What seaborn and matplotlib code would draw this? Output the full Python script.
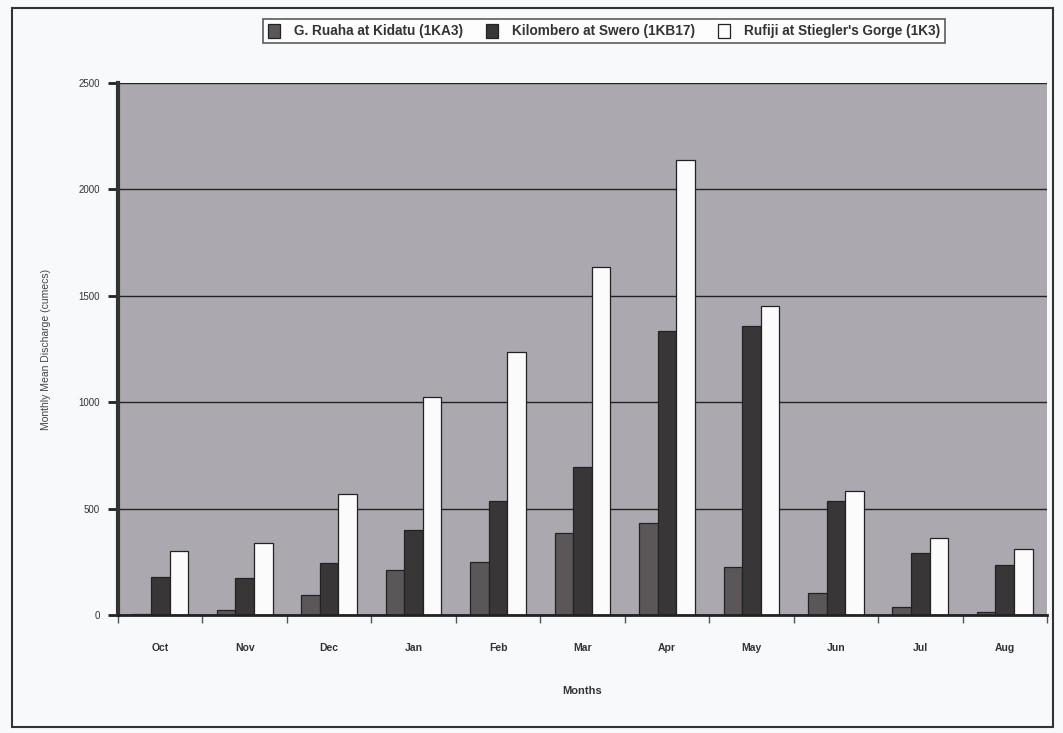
import numpy as np
import pandas as pd
import matplotlib
matplotlib.use("Agg")
import matplotlib.pyplot as plt
from matplotlib.patches import Rectangle
import seaborn as sns

months = ["Oct", "Nov", "Dec", "Jan", "Feb", "Mar", "Apr", "May", "Jun", "Jul", "Aug"]
series_names = [
    "G. Ruaha at Kidatu (1KA3)",
    "Kilombero at Swero (1KB17)",
    "Rufiji at Stiegler's Gorge (1K3)",
]
ruaha = [6, 23, 95, 211, 250, 385, 432, 226, 105, 38, 14]
kilombero = [179, 174, 245, 400, 536, 696, 1335, 1358, 536, 291, 235]
rufiji = [301, 338, 570, 1025, 1235, 1635, 2138, 1452, 583, 361, 310]

yticks = [0, 500, 1000, 1500, 2000, 2500]

df = pd.DataFrame({
    "Month": months * 3,
    "Station": np.repeat(series_names, len(months)),
    "Discharge": ruaha + kilombero + rufiji,
})

sns.set_theme(style="white")
plt.rcParams["font.family"] = ["Liberation Sans", "DejaVu Sans"]

fig = plt.figure(figsize=(10.63, 7.33), dpi=100)
fig.patch.set_facecolor("#f7f9fb")
ax = fig.add_axes([118 / 1063, 1 - 615 / 733, (1047 - 118) / 1063, (615 - 83) / 733])
ax.set_facecolor("#aba8af")

palette = {series_names[0]: "#5b5758", series_names[1]: "#393637", series_names[2]: "#fbfbfb"}
sns.barplot(data=df, x="Month", y="Discharge", hue="Station", order=months,
            hue_order=series_names, palette=palette, width=0.66, saturation=1,
            edgecolor="#222222", linewidth=0.9, ax=ax, legend=True)

ax.set_ylim(0, 2500)
ax.set_yticks(yticks)
ax.set_yticklabels([str(v) for v in yticks], fontsize=7, color="#333333")
ax.yaxis.grid(True, color="#222222", linewidth=1.0)
ax.set_axisbelow(True)
ax.tick_params(axis="y", which="major", left=True, length=7, width=2, color="#222222", pad=6)

ax.set_xlim(-0.5, len(months) - 0.5)
ax.set_xticks(range(len(months)))
ax.set_xticklabels(months, fontsize=7.5, fontweight="bold", color="#333333")
ax.set_xticks(np.arange(-0.5, len(months), 1.0), minor=True)
ax.tick_params(axis="x", which="major", bottom=False, length=0, pad=20)
ax.tick_params(axis="x", which="minor", bottom=True, length=6, width=1, color="#555555")

for side in ["top", "right"]:
    ax.spines[side].set_visible(False)
ax.spines["left"].set_color("#333333")
ax.spines["left"].set_linewidth(3)
ax.spines["bottom"].set_color("#222222")
ax.spines["bottom"].set_linewidth(2)

ax.set_xlabel("Months", fontsize=8, fontweight="bold", color="#333333", labelpad=24)
ax.set_ylabel("Monthly Mean Discharge (cumecs)", fontsize=7.5, color="#444444", labelpad=20)

handles, labels = ax.get_legend_handles_labels()
ax.get_legend().remove()
leg = fig.legend(handles, labels, loc="center", bbox_to_anchor=(604 / 1063, 1 - 31 / 733),
                 ncol=3, prop={"size": 9.8, "weight": "bold"}, frameon=True, fancybox=False,
                 edgecolor="#333333", handlelength=0.9, handleheight=1.3, columnspacing=1.7,
                 handletextpad=1.0, borderpad=0.35, borderaxespad=0)
for t in leg.get_texts():
    t.set_color("#333333")
leg.get_frame().set_linewidth(1.2)
leg.get_frame().set_facecolor("white")

# outer frame around the whole chart
fig.add_artist(Rectangle((12 / 1063, 1 - 727 / 733), (1053 - 12) / 1063, (727 - 8) / 733,
                         transform=fig.transFigure, fill=False, edgecolor="#333333", linewidth=1.5))

fig.savefig("out.png", dpi=100, facecolor=fig.get_facecolor())
